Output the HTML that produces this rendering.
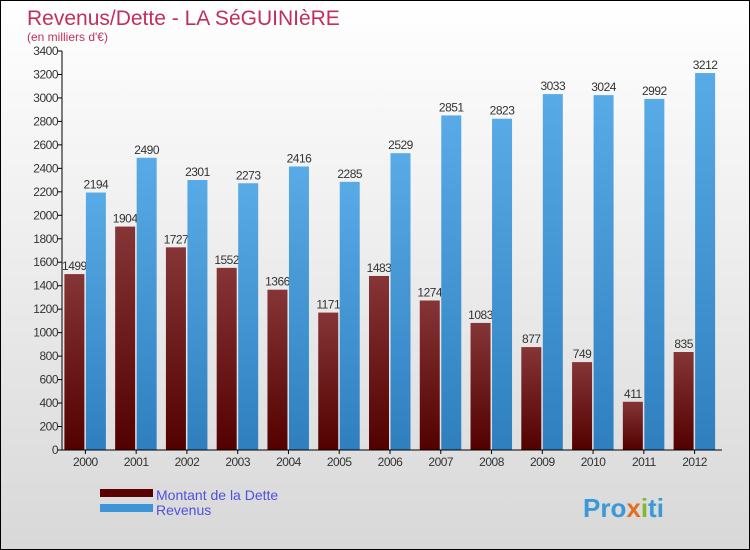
<!DOCTYPE html>
<html><head><meta charset="utf-8"><style>
body{margin:0;width:750px;height:550px;overflow:hidden;font-family:"Liberation Sans",sans-serif}
#c{position:relative;width:748px;height:548px;border:1px solid #000;background:linear-gradient(#ffffff,#d8d8d8)}
</style></head><body>
<div id="c">
<svg id="s" width="748" height="548" style="position:absolute;left:0;top:0">
<defs>
<linearGradient id="gr" x1="0" y1="0" x2="0" y2="1"><stop offset="0" stop-color="#863536"/><stop offset="1" stop-color="#520000"/></linearGradient>
<linearGradient id="gb" x1="0" y1="0" x2="0" y2="1"><stop offset="0" stop-color="#58abe6"/><stop offset="1" stop-color="#2f7fbf"/></linearGradient>
</defs>
<text x="26" y="24" font-size="21" fill="#c0305a">Revenus/Dette - LA SéGUINIèRE</text>
<text x="26" y="40" font-size="12" fill="#c0305a">(en milliers d'€)</text>
<g id="g"></g>
<rect x="99" y="488" width="53" height="8" fill="#5a0000"/>
<text x="155" y="499" font-size="14" fill="#5050e0">Montant de la Dette</text>
<rect x="99" y="503" width="53" height="8" fill="#3d95d8"/>
<text x="155" y="514" font-size="14" fill="#5050e0">Revenus</text>
<text x="582" y="516" font-size="26" font-weight="bold" fill="#3a9ad8">Pro<tspan fill="#e07020">x</tspan><tspan fill="#80b830">i</tspan>ti</text>
</svg>
</div>
<script>
const years=["2000","2001","2002","2003","2004","2005","2006","2007","2008","2009","2010","2011","2012"];
const dette=[1499,1904,1727,1552,1366,1171,1483,1274,1083,877,749,411,835];
const revenus=[2194,2490,2301,2273,2416,2285,2529,2851,2823,3033,3024,2992,3212];
const ticks=[0,200,400,600,800,1000,1200,1400,1600,1800,2000,2200,2400,2600,2800,3000,3200,3400];
const NS="http://www.w3.org/2000/svg";
const g=document.getElementById('g');
const x0=61,x1=721,y0=449,yTop=50,ymax=3400;
const y=v=>y0-(v/ymax)*(y0-yTop);
const step=(x1-x0)/years.length;
const cx=i=>x0-2+step*(i+0.5);
function mk(t,a){const e=document.createElementNS(NS,t);for(const k in a)e.setAttribute(k,a[k]);g.appendChild(e);return e;}
ticks.forEach(t=>{
 const l=mk('line',{x1:x0-4,x2:x0,y1:y(t),y2:y(t),stroke:'#000'});
 
 
 const tx=mk('text',{x:x0-4,y:y(t)+4,'font-size':12,'text-anchor':'end',fill:'#333','letter-spacing':'-0.5'});
 tx.textContent=t;
 
 
});
years.forEach((yr,i)=>{
 const c=cx(i);
 const r=mk('rect',{x:c-21,y:y(dette[i]),width:20,height:y0-y(dette[i]),fill:'url(#gr)'});
 
 
 const t=mk('text',{x:c-11,y:y(dette[i])-4,'font-size':12,'text-anchor':'middle',fill:'#333','letter-spacing':'-0.5'});
 t.textContent=dette[i];
 
 
});
years.forEach((yr,i)=>{
 const c=cx(i);
 const r=mk('rect',{x:c+0.5,y:y(revenus[i]),width:20,height:y0-y(revenus[i]),fill:'url(#gb)'});
 
 
 const t=mk('text',{x:c+10.5,y:y(revenus[i])-4,'font-size':12,'text-anchor':'middle',fill:'#333','letter-spacing':'-0.5'});
 t.textContent=revenus[i];
 
 
 const yl=mk('text',{x:c,y:y0+16,'font-size':12,'text-anchor':'middle',fill:'#333','letter-spacing':'-0.5'});
 yl.textContent=yr;
 
 
 const tk=mk('line',{x1:c,x2:c,y1:y0,y2:y0+4,stroke:'#000'});
 
 
});
const ya=mk('line',{x1:x0,x2:x0,y1:yTop,y2:y0,stroke:'#000'});


const xa=mk('line',{x1:x0,x2:x1,y1:y0,y2:y0,stroke:'#000'});


</script>
</body></html>
